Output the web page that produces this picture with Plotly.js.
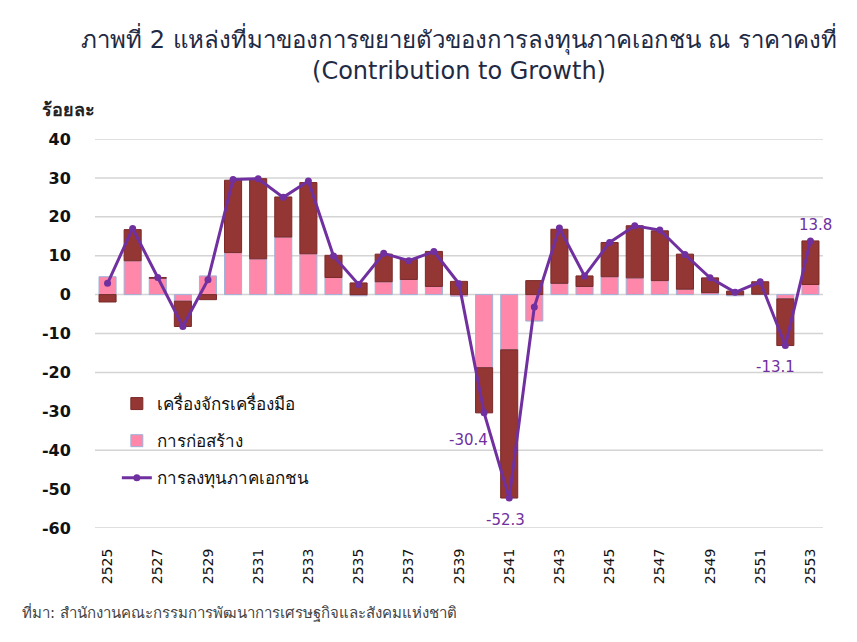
<!DOCTYPE html>
<html>
<head>
<meta charset="utf-8">
<script src="https://cdn.plot.ly/plotly-3.0.1.min.js"></script>
<style>html,body{margin:0;padding:0;background:#fff;}#chart{width:857px;height:642px;}</style>
</head>
<body>
<div id="chart"></div>
<script>
// ---- data ----
const years = ["2525","2526","2527","2528","2529","2530","2531","2532","2533","2534",
  "2535","2536","2537","2538","2539","2540","2541","2542","2543","2544",
  "2545","2546","2547","2548","2549","2550","2551","2552","2553"];
const construction = [4.6, 8.7, 4.2, -1.7, 4.8, 10.8, 9.2, 14.8, 10.5, 4.4,
  -0.3, 3.3, 3.9, 2.1, -0.4, -18.8, -14.2, -6.8, 2.9, 2.1,
  4.6, 4.3, 3.6, 1.4, 0.5, -0.3, 0.1, -1.1, 2.6];
const machinery = [-1.9, 8.0, 0.2, -6.5, -1.3, 18.6, 20.6, 10.3, 18.3, 5.7,
  3.0, 7.1, 5.2, 9.0, 3.4, -11.6, -38.1, 3.6, 13.9, 2.7,
  8.8, 13.4, 12.8, 9.0, 3.8, 0.9, 3.2, -12.0, 11.2];
const privateInvestment = [2.9, 17.0, 4.4, -8.2, 3.8, 29.6, 29.8, 25.0, 29.2, 9.9,
  2.6, 10.6, 8.7, 11.1, 2.8, -30.4, -52.3, -3.2, 17.1, 4.8,
  13.4, 17.7, 16.6, 10.3, 4.3, 0.6, 3.3, -13.1, 13.8];
const tickYears = years.filter((y, i) => i % 2 === 0);
const yTicks = [40, 30, 20, 10, 0, -10, -20, -30, -40, -50, -60];
const labelYears = ["2540", "2541", "2552", "2553"];
const gridValues = [40, 30, 20, 10, 0, -10, -20, -40, -60];
const names = ["เครื่องจักรเครื่องมือ", "การก่อสร้าง", "การลงทุนภาคเอกชน"];

// ---- styles ----
const labelShift = {"2540": [-16, -27], "2541": [-4, -22], "2552": [-10, -21], "2553": [5, 16]};
const thaiFont = "Tahoma, 'DejaVu Sans', 'Noto Sans', sans-serif";

const traces = [
  {type: "bar", name: names[1], x: years, y: construction, legendrank: 2, legendgroup: "c",
   marker: {color: "#ff88aa", line: {color: "#9fb2d8", width: 1}}},
  {type: "bar", name: names[0], x: years, y: machinery, legendrank: 1, legendgroup: "m",
   marker: {color: "#943634", line: {color: "#7a2a28", width: 1}}},
  {type: "scatter", mode: "lines+markers", name: names[2], x: years, y: privateInvestment,
   legendrank: 3, legendgroup: "p",
   line: {color: "#7030a0", width: 3}, marker: {color: "#7030a0", size: 7}}
];

const annotations = labelYears.map(yr => {
  const i = years.indexOf(yr);
  return {x: i, y: privateInvestment[i], xref: "x", yref: "y", text: privateInvestment[i].toFixed(1),
    showarrow: false, xshift: labelShift[yr][0], yshift: labelShift[yr][1],
    font: {family: thaiFont, size: 15, color: "#7030a0"}};
});
annotations.push({xref: "paper", yref: "paper", x: -0.076, y: 1.075, xanchor: "left", yanchor: "middle",
  text: "<b>ร้อยละ</b>", showarrow: false, font: {family: thaiFont, size: 18, color: "#222"}});
annotations.push({xref: "paper", yref: "paper", x: -0.103, y: -0.216, xanchor: "left", yanchor: "middle",
  text: "ที่มา: สำนักงานคณะกรรมการพัฒนาการเศรษฐกิจและสังคมแห่งชาติ", showarrow: false,
  font: {family: thaiFont, size: 15, color: "#444"}});

const shapes = gridValues.map(v => ({type: "line", xref: "paper", yref: "y", x0: 0, x1: 1, y0: v, y1: v,
  line: {color: "#d4d4d4", width: 1.5}, layer: "below"}));

const layout = {
  width: 857, height: 642,
  margin: {l: 95, r: 34, t: 139, b: 114},
  paper_bgcolor: "#fff", plot_bgcolor: "#fff",
  barmode: "relative", bargap: 0.32,
  title: {text: "ภาพที่ 2 แหล่งที่มาของการขยายตัวของการลงทุนภาคเอกชน ณ ราคาคงที่<br>(Contribution to Growth)",
    x: 0.5, xref: "paper", xanchor: "center", y: 0.925, yref: "container", yanchor: "top",
    font: {family: thaiFont, size: 24, color: "#1f2a44"}},
  xaxis: {type: "category", tickmode: "array", tickvals: tickYears, ticktext: tickYears,
    tickangle: -90, showgrid: false, zeroline: false, showline: false,
    ticks: "outside", ticklen: 14, tickcolor: "rgba(0,0,0,0)",
    anchor: "y", side: "bottom", range: [-0.5, 28.5],
    tickfont: {family: thaiFont, size: 14, color: "#111"}},
  yaxis: {range: [-60, 40], tickmode: "array", tickvals: yTicks, ticktext: yTicks.map(String),
    showgrid: false, zeroline: false, showline: false,
    ticks: "outside", ticklen: 20, tickcolor: "rgba(0,0,0,0)",
    tickfont: {family: "'DejaVu Sans', sans-serif", size: 16, color: "#111", weight: "bold"}},
  legend: {x: 0.03, y: 0.365, xanchor: "left", yanchor: "top", bgcolor: "rgba(255,255,255,0)",
    tracegroupgap: 12, font: {family: thaiFont, size: 17, color: "#111"}},
  showlegend: true,
  shapes: shapes,
  annotations: annotations
};

Plotly.newPlot("chart", traces, layout, {displayModeBar: false});
</script>
</body>
</html>
